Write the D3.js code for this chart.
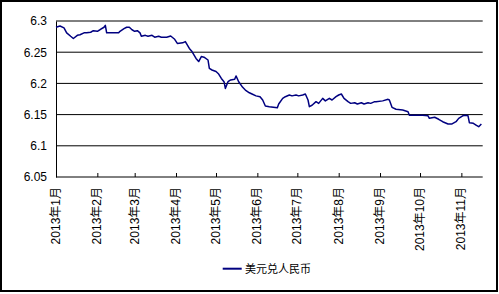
<!DOCTYPE html>
<html>
<head>
<meta charset="utf-8">
<style>
  body { margin: 0; background: #fff; }
  svg { font-family: "Liberation Sans", Arial, "Noto Sans CJK SC", sans-serif; }
</style>
</head>
<body>
<script src="https://d3js.org/d3.v7.min.js"></script>
<div id="chart"></div>
<script>
// series (date, rate)
var dates = ["2013-01-01","2013-01-04","2013-01-07","2013-01-09","2013-01-12","2013-01-14","2013-01-17","2013-01-19",
  "2013-01-22","2013-01-24","2013-01-27","2013-01-29","2013-02-01","2013-02-03","2013-02-06","2013-02-07","2013-02-08",
  "2013-02-12","2013-02-17","2013-02-18","2013-02-21","2013-02-23","2013-02-25","2013-02-27","2013-03-01","2013-03-03",
  "2013-03-05","2013-03-06","2013-03-09","2013-03-11","2013-03-14","2013-03-16","2013-03-19","2013-03-21","2013-03-25",
  "2013-03-28","2013-03-31","2013-04-02","2013-04-06","2013-04-08","2013-04-11","2013-04-13","2013-04-16","2013-04-18",
  "2013-04-20","2013-04-22","2013-04-25","2013-04-26","2013-04-28","2013-05-01","2013-05-03","2013-05-05","2013-05-07",
  "2013-05-08","2013-05-10","2013-05-12","2013-05-15","2013-05-16","2013-05-18","2013-05-21","2013-05-23","2013-05-26",
  "2013-05-28","2013-05-31","2013-06-03","2013-06-05","2013-06-07","2013-06-10","2013-06-16","2013-06-17","2013-06-20",
  "2013-06-22","2013-06-25","2013-06-27","2013-06-30","2013-07-02","2013-07-05","2013-07-07","2013-07-09","2013-07-10",
  "2013-07-12","2013-07-15","2013-07-17","2013-07-20","2013-07-22","2013-07-25","2013-07-27","2013-07-30","2013-08-01",
  "2013-08-03","2013-08-05","2013-08-08","2013-08-10","2013-08-13","2013-08-15","2013-08-18","2013-08-20","2013-08-23",
  "2013-08-25","2013-08-28","2013-08-29","2013-09-03","2013-09-07","2013-09-08","2013-09-10","2013-09-13","2013-09-18",
  "2013-09-22","2013-09-23","2013-09-28","2013-10-03","2013-10-07","2013-10-08","2013-10-12","2013-10-15","2013-10-18",
  "2013-10-22","2013-10-25","2013-10-28","2013-10-30","2013-11-02","2013-11-04","2013-11-06","2013-11-07","2013-11-10",
  "2013-11-12","2013-11-14","2013-11-16"];
var rates = [6.290,6.292,6.289,6.281,6.2755,6.272,6.277,6.278,
  6.281,6.281,6.282,6.2845,6.2835,6.286,6.290,6.293,6.281,
  6.281,6.281,6.2835,6.2877,6.290,6.290,6.286,6.2835,6.2845,
  6.281,6.2755,6.277,6.2755,6.277,6.274,6.2755,6.274,6.274,
  6.276,6.2707,6.264,6.265,6.267,6.256,6.251,6.240,6.235,
  6.243,6.242,6.2375,6.224,6.2215,6.219,6.215,6.208,6.2027,
  6.192,6.2027,6.2055,6.2066,6.212,6.2027,6.1937,6.1894,6.185,
  6.183,6.180,6.1787,6.1734,6.1638,6.1627,6.161,6.167,6.176,
  6.1787,6.1814,6.180,6.1814,6.180,6.1814,6.183,6.1734,6.1627,
  6.165,6.1707,6.168,6.176,6.172,6.176,6.1734,6.1787,6.1814,
  6.183,6.176,6.1707,6.168,6.169,6.167,6.169,6.167,6.169,
  6.168,6.1707,6.1707,6.172,6.1745,6.1734,6.1617,6.1585,6.1574,
  6.1546,6.149,6.149,6.149,6.148,6.144,6.1457,6.1425,6.1386,
  6.135,6.135,6.1386,6.144,6.148,6.149,6.148,6.137,6.136,
  6.1333,6.1306,6.135];
var yTicks = [6.05, 6.1, 6.15, 6.2, 6.25, 6.3];
var monthTicks = ["2013-01-01","2013-02-01","2013-03-01","2013-04-01","2013-05-01","2013-06-01",
  "2013-07-01","2013-08-01","2013-09-01","2013-10-01","2013-11-01"];
var seriesName = "美元兑人民币";

var W = 499, H = 294;
var plotL = 56, plotR = 482.7, plotT = 21, plotB = 177;
var parse = d3.timeParse("%Y-%m-%d");

var svg = d3.select("#chart").append("svg")
  .attr("width", W).attr("height", H);

svg.append("rect")
  .attr("x", 1).attr("y", 1).attr("width", W - 3).attr("height", H - 4)
  .attr("fill", "#fff").attr("stroke", "#000").attr("stroke-width", 2);

var x = d3.scaleTime()
  .domain([parse("2013-01-01"), parse("2013-11-17")])
  .range([plotL, plotR]);
var y = d3.scaleLinear().domain([6.05, 6.3]).range([plotB, plotT]);

// grid
svg.selectAll("line.grid")
  .data(yTicks.slice(1))
  .enter().append("line")
    .attr("class", "grid")
    .attr("x1", plotL).attr("x2", plotR)
    .attr("y1", function(d) { return y(d); })
    .attr("y2", function(d) { return y(d); })
    .attr("stroke", "#000").attr("stroke-width", 1);

// y axis
var yAxis = svg.append("g")
  .attr("transform", "translate(" + plotL + ",0)")
  .call(d3.axisLeft(y).tickValues(yTicks).tickSize(0).tickPadding(9)
    .tickFormat(function(d) { return String(+d.toFixed(2)); }));
yAxis.select(".domain").attr("stroke", "#000");
yAxis.selectAll("text").attr("font-size", 12).attr("fill", "#000")
  .attr("font-family", "Liberation Sans, Arial, sans-serif");

// x axis
var xAxis = svg.append("g")
  .attr("transform", "translate(0," + plotB + ")")
  .call(d3.axisTop(x).tickValues(monthTicks.map(parse)).tickSize(4).tickFormat(""));
xAxis.select(".domain").attr("d", "M" + plotL + ",0H" + plotR).attr("stroke", "#000");
xAxis.selectAll(".tick line").attr("stroke", "#000");

svg.append("g").selectAll("text")
  .data(monthTicks)
  .enter().append("text")
    .attr("transform", function(d) {
      return "translate(" + x(parse(d)) + ",187) rotate(-90)";
    })
    .attr("text-anchor", "end")
    .attr("dominant-baseline", "central")
    .attr("font-size", 12)
    .text(function(d) { var p = parse(d); return p.getFullYear() + "年" + (p.getMonth() + 1) + "月"; });

// line
var line = d3.line()
  .x(function(d, i) { return x(parse(dates[i])); })
  .y(function(d) { return y(d); });
svg.append("path")
  .datum(rates)
  .attr("d", line)
  .attr("fill", "none")
  .attr("stroke", "#000080")
  .attr("stroke-width", 1.5)
  .attr("stroke-linejoin", "round");

// legend
svg.append("line")
  .attr("x1", 222.7).attr("x2", 241.7).attr("y1", 268.7).attr("y2", 268.7)
  .attr("stroke", "#000080").attr("stroke-width", 2);
svg.append("text")
  .attr("x", 245).attr("y", 268.7)
  .attr("dominant-baseline", "central")
  .attr("font-size", 11)
  .text(seriesName);
</script>
</body>
</html>
